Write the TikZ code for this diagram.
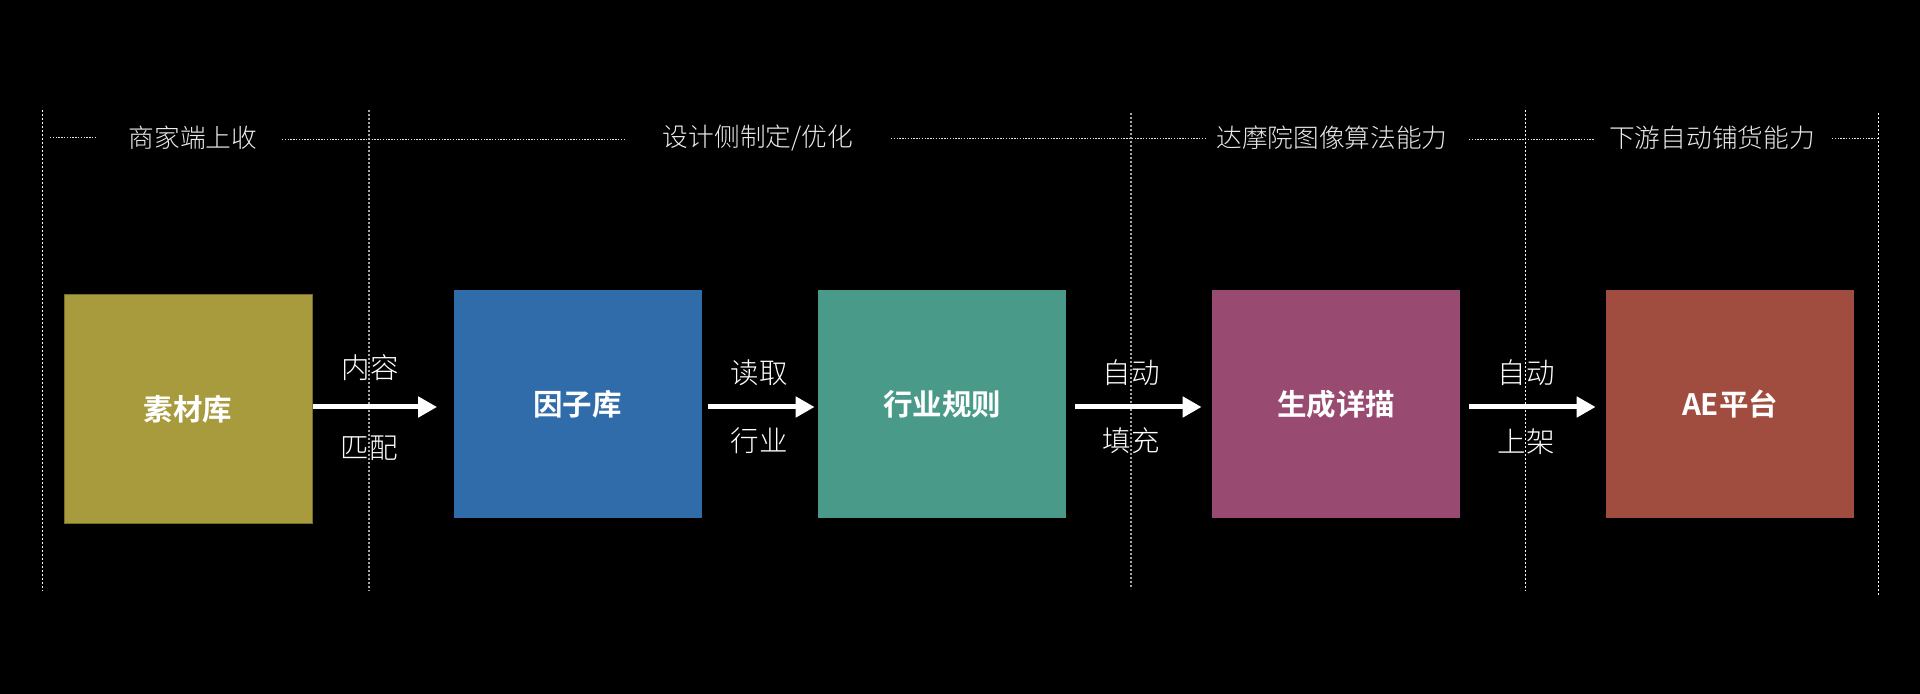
\documentclass[tikz,border=0pt]{standalone}
\usepackage{fontspec}
\setmainfont{Noto Sans CJK SC}[UprightFont=* Light, BoldFont=* Bold]
\usetikzlibrary{arrows.meta}
\definecolor{cOlive}{RGB}{168,155,62}
\definecolor{cBlue}{RGB}{49,108,170}
\definecolor{cTeal}{RGB}{74,154,138}
\definecolor{cPlum}{RGB}{152,74,112}
\definecolor{cRust}{RGB}{160,76,62}
\begin{document}
\begin{tikzpicture}[x=0.5pt,y=-0.5pt,
  box/.style={minimum width=124pt, minimum height=114pt, inner sep=0pt, text=white,
    font=\fontsize{14.75pt}{17pt}\selectfont\bfseries},
  hdr/.style={text=white!92!black, inner sep=0pt, font=\fontsize{12.85pt}{15pt}\selectfont},
  lbl/.style={text=white, inner sep=0pt, font=\fontsize{14.25pt}{16pt}\selectfont},
  flow/.style={white, line width=2.5pt, -{Triangle[length=9.5pt,width=10pt]}},
  sepw/.style={white, line width=0.5pt, dash pattern=on 1pt off 1pt},
  sepg/.style={white!65!black, line width=1pt, dash pattern=on 1.2pt off 0.8pt},
  hline/.style={white!90!black, line width=0.5pt, dash pattern=on 0.7pt off 0.7pt}]
\fill[black] (0,0) rectangle (1920,694);
\useasboundingbox (0,0) rectangle (1920,694);

% vertical separators
\draw[sepw] (42,110) -- (42,591);
\draw[sepg] (369,110) -- (369,591);
\draw[sepg] (1131,113) -- (1131,589);
\draw[sepw] (1525,110) -- (1525,591);
\draw[sepw] (1878,113) -- (1878,596);

% header dotted lines
\draw[hline] (50,138) -- (96,138);
\draw[hline] (282,140) -- (625,140);
\draw[hline] (891,139) -- (1205,139);
\draw[hline] (1469,140) -- (1594,140);
\draw[hline] (1832,139) -- (1878,139);

% headers
\node[hdr] (h1) at (193,138) {商家端上收};
\node[hdr] (h2) at (758,138) {设计侧制定/优化};
\node[hdr] (h3) at (1332,138) {达摩院图像算法能力};
\node[hdr] (h4) at (1712,138) {下游自动铺货能力};

% boxes
\node[box, fill=cOlive, draw=cOlive!70!black, line width=0.5pt] (b1) at (188,409) {素材库};
\node[box, fill=cBlue] (b2) at (577.5,404) {因子库};
\node[box, fill=cTeal] (b3) at (942,404) {行业规则};
\node[box, fill=cPlum] (b4) at (1336,404) {生成详描};
\node[box, fill=cRust] (b5) at (1730,404) {AE平台};

% arrows
\draw[flow] ([yshift=1pt]b1.east) -- ([xshift=-8pt,yshift=-1.5pt]b2.west);
\draw[flow] ([xshift=3pt,yshift=-1.5pt]b2.east) -- ([xshift=-1.5pt,yshift=-1.5pt]b3.west);
\draw[flow] ([xshift=4.5pt,yshift=-1.5pt]b3.east) -- ([xshift=-5pt,yshift=-1.5pt]b4.west);
\draw[flow] ([xshift=4.5pt,yshift=-1.5pt]b4.east) -- ([xshift=-5pt,yshift=-1.5pt]b5.west);

% arrow labels
\node[lbl] (l1a) at (370,368) {内容};
\node[lbl] (l1b) at (369,448) {匹配};
\node[lbl] (l2a) at (759,373) {读取};
\node[lbl] (l2b) at (759,441) {行业};
\node[lbl] (l3a) at (1131,373) {自动};
\node[lbl] (l3b) at (1131,441) {填充};
\node[lbl] (l4a) at (1526,373) {自动};
\node[lbl] (l4b) at (1526,442) {上架};
\end{tikzpicture}
\end{document}
